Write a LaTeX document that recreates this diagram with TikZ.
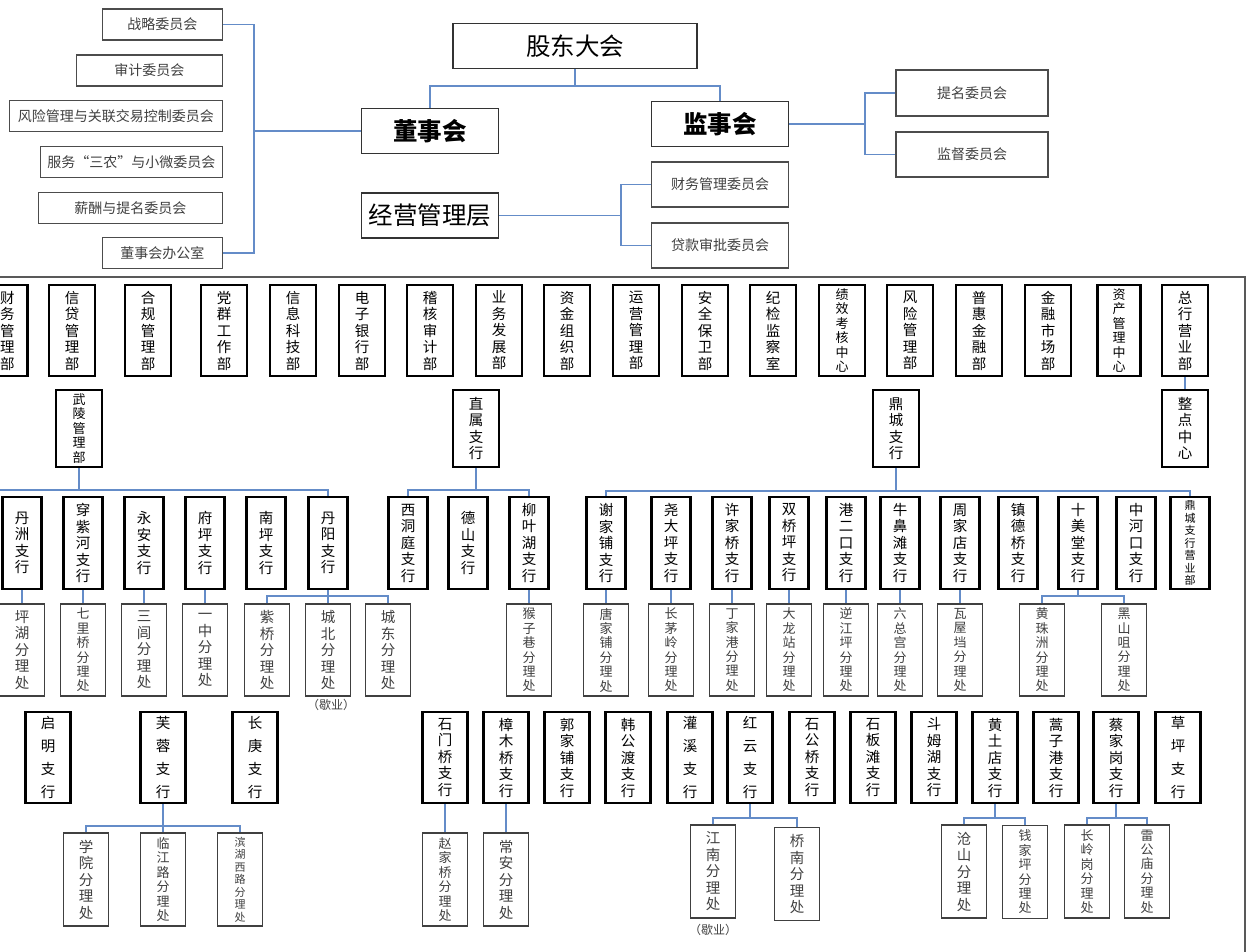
\documentclass[tikz,border=0pt]{standalone}
\usepackage{tikz}
\usepackage{fontspec}
\setmainfont{Noto Sans CJK SC}
\definecolor{wireblue}{RGB}{100,140,200}
\newcommand\vlab[1]{\expandafter\vlabx#1\vlabend}
\def\vlabx#1#2\vlabend{#1\ifx\relax#2\relax\else\\\vlabx#2\vlabend\fi}

\begin{document}
\begin{tikzpicture}[x=1pt,y=-1pt,
  wire/.style={draw=wireblue,line width=1.2pt},
  combox/.style={draw=black!70,line width=1.2pt,inner sep=0pt,minimum height=31pt,text=black!75,font=\fontsize{14}{16}\selectfont},
  headbox/.style={draw=black!80,line width=1.5pt,inner sep=0pt,minimum width=137pt,minimum height=45pt,font=\fontsize{24.5}{28}\selectfont},
  deptbox/.style={draw=black,line width=2.2pt,inner sep=0pt,minimum width=46pt,minimum height=91pt,align=center,font=\fontsize{14.5}{16.5}\selectfont},
  branchbox/.style={deptbox,minimum width=39pt,minimum height=92pt},
  officebox/.style={draw=black!75,line width=1.2pt,inner sep=0pt,minimum width=45pt,minimum height=92pt,align=center,text=black!75,font=\fontsize{14.5}{16.5}\selectfont},
  looseset/.style={font=\fontsize{14.5}{23}\selectfont},
  sixset/.style={font=\fontsize{13}{14.4}\selectfont},
  sevenset/.style={font=\fontsize{11}{12.5}\selectfont},
  notetext/.style={text=black!75,font=\fontsize{12}{14}\selectfont}]
\useasboundingbox (0,0) rectangle (1253,951);
\clip (0,0) rectangle (1253,951);
\fill[white] (0,0) rectangle (1253,951);

\node[headbox,minimum width=244pt] (gd) at (575,46) {股东大会};
\node[headbox,font=\fontsize{24.5}{28}\selectfont\bfseries] (dsh) at (430,131) {董事会};
\node[headbox,font=\fontsize{24.5}{28}\selectfont\bfseries] (jsh) at (720,124) {监事会};
\node[headbox] (jy) at (430,215.5) {经营管理层};

\node[combox,anchor=east,minimum width=120pt] (zl) at (223,24.5) {战略委员会};
\node[combox,anchor=east,minimum width=146pt] (sj) at (223,70.5) {审计委员会};
\node[combox,anchor=east,minimum width=213pt] (fxgl) at (223,116) {风险管理与关联交易控制委员会};
\node[combox,anchor=east,minimum width=182pt] (sn) at (223,162) {服务“三农”与小微委员会};
\node[combox,anchor=east,minimum width=184pt] (xc) at (223,208) {薪酬与提名委员会};
\node[combox,anchor=east,minimum width=120pt] (bgs) at (223,253) {董事会办公室};
\node[combox,minimum width=152pt,minimum height=46pt] (tm) at (972,93) {提名委员会};
\node[combox,minimum width=152pt,minimum height=45pt] (jd) at (972,154.5) {监督委员会};
\node[combox,minimum width=137pt,minimum height=45pt] (cwwy) at (720,184.5) {财务管理委员会};
\node[combox,minimum width=137pt,minimum height=45pt] (dkwy) at (720,245.5) {贷款审批委员会};

\coordinate (gdbus) at (575,86);
\draw[wire] (gd.south) -- (gdbus);
\draw[wire] (dsh.north) |- (gdbus) -| (jsh.north);
\coordinate (dshbr) at (254,131);
\draw[wire] (dsh.west) -- (dshbr);
\draw[wire] (zl.east) -| (dshbr);
\draw[wire] (bgs.east) -| (dshbr);
\coordinate (jshbr) at (865,124);
\draw[wire] (jsh.east) -- (jshbr);
\draw[wire] (tm.west) -| (jshbr);
\draw[wire] (jd.west) -| (jshbr);
\coordinate (jybr) at (621,215.5);
\draw[wire] (jy.east) -- (jybr);
\draw[wire] (cwwy.west) -| (jybr);
\draw[wire] (dkwy.west) -| (jybr);

\draw[black!65,line width=1.3pt] (-10,277) -- (1245,277) -- (1245,960);

% departments
\node[deptbox,minimum width=40pt] (cwb) at (7.5,330.5) {\vlab{财务管理部}};
\foreach \n/\x/\t in {xdb/72/信贷管理部,hgb/148/合规管理部,dqb/224/党群工作部,
    xxb/293/信息科技部,dzb/362/电子银行部,jhb/430/稽核审计部,ywb/499/业务发展部,zjb/567/资金组织部,
    yyb/636/运营管理部,aqb/705/安全保卫部,jjs/773/纪检监察室,fxb/910/风险管理部,phb/979/普惠金融部,
    jrb/1048/金融市场部,zhyyb/1185/总行营业部}
  \node[deptbox] (\n) at (\x,330.5) {\vlab{\t}};
\node[deptbox,sixset] (jxzx) at (842,330.5) {\vlab{绩效考核中心}};
\node[deptbox,sixset,minimum width=43pt] (zczx) at (1119,330.5) {\vlab{资产管理中心}};

\node[deptbox,minimum height=77pt,font=\fontsize{13}{14.5}\selectfont] (wl) at (79,428.5) {\vlab{武陵管理部}};
\foreach \n/\x/\t in {zs/476/直属支行,dc/896/鼎城支行,zd/1185/整点中心}
  \node[deptbox,minimum height=77pt] (\n) at (\x,428.5) {\vlab{\t}};
\draw[wire] (zhyyb.south) -- (zd.north);

% branches
\foreach \n/\x/\t in {dzh/22/丹洲支行,czh/83/穿紫河支行,ya/144/永安支行,fp/205/府坪支行,np/266/南坪支行,dy/328/丹阳支行,
    xdt/408/西洞庭支行,ds/468/德山支行,lyh/529/柳叶湖支行,
    xjp/606/谢家铺支行,ydp/671/尧大坪支行,xjq/732/许家桥支行,sqp/789/双桥坪支行,ek/846/港二口支行,
    nbt/900/牛鼻滩支行,zjd/960/周家店支行,zdq/1018/镇德桥支行,smt/1078/十美堂支行,zhk/1136/中河口支行}
  \node[branchbox] (\n) at (\x,543) {\vlab{\t}};
\node[branchbox,sevenset] (dcyy) at (1190,543) {\vlab{鼎城支行营业部}};

\foreach \n/\x/\t in {php/22/坪湖分理处,sl/144/三闾分理处,yz/205/一中分理处,zq/267/紫桥分理处,cb/328/城北分理处,
    cd/388/城东分理处}
  \node[officebox] (\n) at (\x,650) {\vlab{\t}};
\foreach \n/\x/\t in {qlq/83/七里桥分理处,hzx/529/猴子巷分理处,tjp/606/唐家铺分理处,cml/671/长茅岭分理处,
    djg/732/丁家港分理处,dlz/789/大龙站分理处,njp/846/逆江坪分理处,lzg/900/六总宫分理处,wwd/960/瓦屋垱分理处,
    hzz/1042/黄珠洲分理处,hsj/1124/黑山咀分理处}
  \node[officebox,sixset] (\n) at (\x,650) {\vlab{\t}};
\node[notetext] (cbnote) at (331,705) {（歇业）};

\coordinate (wlbus) at (79,490);
\draw[wire] (wl.south) -- (wlbus);
\draw[wire] (-10,490) -- (wlbus) -| (dy.north);
\coordinate (zsbus) at (476,490);
\draw[wire] (zs.south) -- (zsbus);
\draw[wire] (xdt.north) |- (zsbus) -| (lyh.north);
\coordinate (dcbus) at (896,491);
\draw[wire] (dc.south) -- (dcbus);
\draw[wire] (xjp.north) |- (dcbus) -| (dcyy.north);
\foreach \a/\b in {dzh/php,czh/qlq,ya/sl,fp/yz,lyh/hzx,xjp/tjp,ydp/cml,xjq/djg,sqp/dlz,ek/njp,nbt/lzg,zjd/wwd}
  \draw[wire] (\a.south) -- (\b.north);
\coordinate (dybus) at (328,596);
\draw[wire] (dy.south) -- (cb.north);
\draw[wire] (zq.north) |- (dybus) -| (cd.north);
\coordinate (smtbus) at (1078,596);
\draw[wire] (smt.south) -- (smtbus);
\draw[wire] (hzz.north) |- (smtbus) -| (hsj.north);

% lower branches
\foreach \n/\x/\t in {smq/445/石门桥支行,zmq/506/樟木桥支行,gjp/567/郭家铺支行,hgd/628/韩公渡支行,sgq/812/石公桥支行,
    sbt/873/石板滩支行,dmh/934/斗姆湖支行,htd/995/黄土店支行,hzg/1056/蒿子港支行,cjg/1116/蔡家岗支行}
  \node[deptbox,minimum width=45pt] (\n) at (\x,757.5) {\vlab{\t}};
\foreach \n/\x/\t in {qm/48/启明支行,fr/163/芙蓉支行,cg/255/长庚支行,gx/690/灌溪支行,hy/750/红云支行,cp/1178/草坪支行}
  \node[deptbox,looseset,minimum width=45pt] (\n) at (\x,757.5) {\vlab{\t}};

\foreach \n/\x/\y/\t in {xy/86/879.5/学院分理处,ca/506/879.5/常安分理处,
    jn/713/871.5/江南分理处,qn/797/874/桥南分理处,cs/964/871.5/沧山分理处}
  \node[officebox,minimum height=93pt] (\n) at (\x,\y) {\vlab{\t}};
\foreach \n/\x/\y/\t in {ljl/163/879.5/临江路分理处,zjq/445/879.5/赵家桥分理处,qjp/1025/872/钱家坪分理处,
    clg/1087/871.5/长岭岗分理处,lgm/1147/871.5/雷公庙分理处}
  \node[officebox,sixset,minimum height=93pt] (\n) at (\x,\y) {\vlab{\t}};
\node[officebox,sevenset,minimum height=93pt] (bhxl) at (240,879.5) {\vlab{滨湖西路分理处}};
\node[notetext] (jnnote) at (713,930) {（歇业）};

\draw[wire] (smq.south) -- (zjq.north);
\draw[wire] (zmq.south) -- (ca.north);
\coordinate (frbus) at (163,826);
\draw[wire] (fr.south) -- (ljl.north);
\draw[wire] (xy.north) |- (frbus) -| (bhxl.north);
\foreach \p/\l/\r/\yb in {hy/jn/qn/818,htd/cs/qjp/818,cjg/clg/lgm/818}{
  \coordinate (\p bus) at (\p.south |- 0,\yb);
  \draw[wire] (\p.south) -- (\p bus);
  \draw[wire] (\l.north) |- (\p bus) -| (\r.north);
}
\end{tikzpicture}
\end{document}
